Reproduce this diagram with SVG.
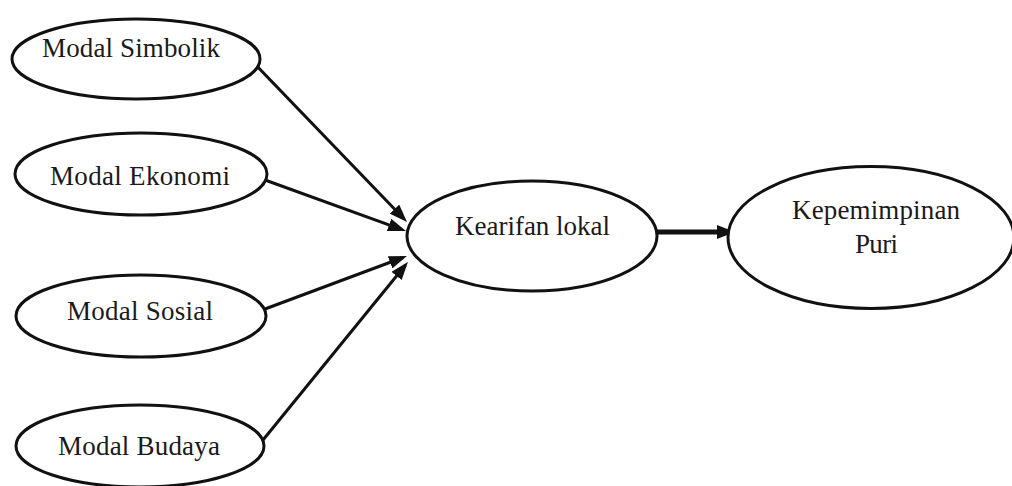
<svg xmlns="http://www.w3.org/2000/svg" width="1012" height="486" viewBox="0 0 1012 486">
  <style>
    .node ellipse { fill: #ffffff; stroke: #111111; stroke-width: 3; }
    .node text { font-family: "Liberation Serif", "Times New Roman", serif; font-size: 27px; fill: #1a1a1a; text-anchor: start; }
    .edge { stroke: #111111; stroke-width: 3; fill: none; }
    .edge.main { stroke-width: 5; }
  </style>
  <defs>
    <marker id="head" markerUnits="userSpaceOnUse" markerWidth="18" markerHeight="13" refX="13.8" refY="6.5" orient="auto">
      <path d="M0,0 L18,6.5 L0,13 Z" fill="#111111"/>
    </marker>
    <marker id="headBig" markerUnits="userSpaceOnUse" markerWidth="18" markerHeight="14" refX="11.6" refY="7" orient="auto">
      <path d="M0,0 L18,7 L0,14 Z" fill="#111111"/>
    </marker>
  </defs>
  <rect width="1012" height="486" fill="#ffffff"/>

  <!-- connectors -->
  <g id="connectors">
    <line class="edge" x1="253" y1="62" x2="404.1" y2="219" marker-end="url(#head)"/>
    <line class="edge" x1="265" y1="180" x2="402" y2="229.6" stroke-width="3.5" marker-end="url(#head)"/>
    <line class="edge" x1="265" y1="309" x2="403" y2="257.5" marker-end="url(#head)"/>
    <line class="edge" x1="263" y1="440" x2="405.3" y2="265.3" marker-end="url(#head)"/>
    <line class="edge main" x1="657" y1="232" x2="728.6" y2="232" marker-end="url(#headBig)"/>
  </g>

  <!-- nodes -->
  <g id="modal-simbolik" class="node">
    <ellipse cx="136" cy="59" rx="124" ry="40"/>
    <text x="42" y="57" textLength="178" lengthAdjust="spacing">Modal Simbolik</text>
  </g>
  <g id="modal-ekonomi" class="node">
    <ellipse cx="141" cy="174" rx="126" ry="41"/>
    <text x="50" y="185" textLength="180" lengthAdjust="spacing">Modal Ekonomi</text>
  </g>
  <g id="modal-sosial" class="node">
    <ellipse cx="141" cy="316" rx="125" ry="41"/>
    <text x="67" y="320" textLength="146" lengthAdjust="spacing">Modal Sosial</text>
  </g>
  <g id="modal-budaya" class="node">
    <ellipse cx="140" cy="446" rx="124" ry="41"/>
    <text x="58" y="455" textLength="162" lengthAdjust="spacing">Modal Budaya</text>
  </g>
  <g id="kearifan-lokal" class="node">
    <ellipse cx="532" cy="236" rx="125" ry="55"/>
    <text x="455" y="235" textLength="155" lengthAdjust="spacing">Kearifan lokal</text>
  </g>
  <g id="kepemimpinan-puri" class="node">
    <ellipse cx="871" cy="237.5" rx="143" ry="71"/>
    <text x="792" y="219" textLength="168" lengthAdjust="spacing">Kepemimpinan</text>
    <text x="855" y="253" textLength="43" lengthAdjust="spacing">Puri</text>
  </g>
</svg>
